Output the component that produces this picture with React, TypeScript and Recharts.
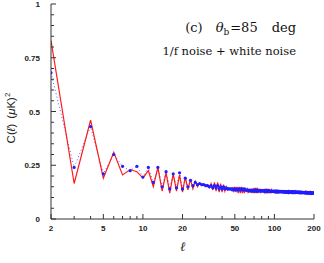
import React from 'react';
import { LineChart, Line, XAxis, YAxis } from 'recharts';

// multipoles start at l = 2, one value per integer l up to 200
const ELL_START = 2;

// red solid curve: 1/f + white noise
const redLow = [
    0.83, 0.165, 0.46, 0.19, 0.31, 0.205, 0.23, 0.22, 0.19, 0.225,
    0.15, 0.24, 0.13, 0.215, 0.12, 0.21, 0.13, 0.205, 0.125, 0.195,
    0.135, 0.185, 0.14, 0.175, 0.15, 0.165, 0.155, 0.16, 0.155, 0.16,
    0.145, 0.165, 0.135, 0.17, 0.13, 0.17, 0.125, 0.165, 0.125, 0.16,
    0.13, 0.15, 0.135, 0.145, 0.14, 0.14, 0.145, 0.13, 0.15, 0.125,
    0.15, 0.12, 0.15, 0.12, 0.15, 0.12, 0.145, 0.12, 0.145, 0.125,
    0.14, 0.125, 0.135, 0.13, 0.13,
];
const redHigh = [
    0.125, 0.14, 0.12, 0.145, 0.12, 0.145, 0.12, 0.145, 0.12, 0.14,
    0.125, 0.14, 0.125, 0.135, 0.13, 0.13, 0.135, 0.125, 0.14, 0.12,
    0.14, 0.12, 0.14, 0.12, 0.14, 0.12, 0.135, 0.125, 0.135, 0.125,
    0.13, 0.13, 0.13, 0.125, 0.135, 0.12, 0.135, 0.12, 0.135, 0.12,
    0.135, 0.12, 0.135, 0.12, 0.13, 0.125, 0.13, 0.125, 0.13, 0.125,
    0.128, 0.126, 0.13, 0.122, 0.132, 0.12, 0.132, 0.12, 0.132, 0.12,
    0.13, 0.122, 0.13, 0.124, 0.128, 0.125, 0.127, 0.124, 0.128, 0.122,
    0.13, 0.12, 0.13, 0.12, 0.13, 0.12, 0.129, 0.121, 0.128, 0.122,
    0.127, 0.123, 0.126, 0.124, 0.126, 0.123, 0.127, 0.121, 0.128, 0.12,
    0.128, 0.12, 0.128, 0.12, 0.127, 0.121, 0.126, 0.122, 0.125, 0.123,
    0.124, 0.123, 0.125, 0.121, 0.126, 0.12, 0.126, 0.119, 0.126, 0.119,
    0.125, 0.12, 0.124, 0.121, 0.123, 0.122, 0.123, 0.121, 0.124, 0.12,
    0.124, 0.119, 0.124, 0.119, 0.123, 0.12, 0.122, 0.121, 0.122, 0.12,
    0.122, 0.12, 0.121, 0.12,
];

// blue dotted curve with points
const blueLow = [
    0.68, 0.24, 0.43, 0.21, 0.30, 0.245, 0.225, 0.245, 0.195, 0.24,
    0.17, 0.24, 0.15, 0.22, 0.14, 0.21, 0.145, 0.215, 0.14, 0.19,
    0.15, 0.18, 0.155, 0.17, 0.16, 0.165, 0.16, 0.16, 0.155, 0.155,
    0.15, 0.155, 0.145, 0.155, 0.145, 0.155, 0.14, 0.15, 0.14, 0.15,
    0.14, 0.145, 0.14, 0.14, 0.14, 0.14, 0.135, 0.14, 0.135, 0.14,
    0.135, 0.14, 0.135, 0.14, 0.135, 0.14, 0.135, 0.14, 0.135, 0.135,
    0.135, 0.135, 0.13, 0.135, 0.13,
];
const blueHigh = [
    0.135, 0.13, 0.135, 0.13, 0.135, 0.13, 0.135, 0.13, 0.133, 0.13,
    0.133, 0.13, 0.132, 0.13, 0.132, 0.13, 0.132, 0.128, 0.133, 0.127,
    0.133, 0.127, 0.132, 0.128, 0.132, 0.128, 0.13, 0.128, 0.13, 0.128,
    0.13, 0.128, 0.13, 0.127, 0.13, 0.126, 0.13, 0.126, 0.13, 0.126,
    0.13, 0.126, 0.129, 0.127, 0.128, 0.127, 0.128, 0.126, 0.128, 0.126,
    0.127, 0.126, 0.128, 0.125, 0.128, 0.124, 0.128, 0.124, 0.128, 0.124,
    0.127, 0.125, 0.127, 0.125, 0.126, 0.125, 0.126, 0.125, 0.126, 0.124,
    0.127, 0.123, 0.127, 0.123, 0.126, 0.123, 0.126, 0.123, 0.125, 0.124,
    0.125, 0.124, 0.125, 0.124, 0.125, 0.123, 0.125, 0.123, 0.125, 0.122,
    0.125, 0.122, 0.125, 0.122, 0.124, 0.122, 0.124, 0.123, 0.124, 0.123,
    0.123, 0.123, 0.123, 0.122, 0.124, 0.121, 0.124, 0.121, 0.124, 0.121,
    0.123, 0.121, 0.123, 0.121, 0.122, 0.122, 0.122, 0.121, 0.122, 0.121,
    0.122, 0.12, 0.122, 0.12, 0.122, 0.121, 0.121, 0.121, 0.121, 0.121,
    0.121, 0.121, 0.121, 0.12,
];

const redVals = [...redLow, ...redHigh];
const blueVals = [...blueLow, ...blueHigh];

const majorX = [2, 5, 10, 20, 50, 100, 200];
const minorX = [3, 4, 6, 7, 8, 9, 30, 40, 60, 70, 80, 90];
const xTicks = [...majorX, ...minorX].sort((a, b) => a - b);

const majorY = [0, 0.25, 0.5, 0.75, 1];
const minorY = [0.05, 0.1, 0.15, 0.2, 0.3, 0.35, 0.4, 0.45, 0.55, 0.6, 0.65, 0.7, 0.8, 0.85, 0.9, 0.95];
const yTicks = [...majorY, ...minorY].sort((a, b) => a - b);

const data = redVals.map((r, i) => ({ ell: ELL_START + i, red: r, blue: blueVals[i] }));

const AXIS = '#333';
const labelFont = { fontFamily: 'Liberation Sans, Arial, sans-serif', fontSize: 8, fontWeight: 'bold' as const, fill: '#222' };
const serif = 'DejaVu Serif, serif';

const isMajor = (list: number[], v: number) => list.some((m) => Math.abs(m - v) < 1e-9);

// ticks are drawn pointing into the frame
const BottomTick = (props: any) => {
    const { x, y, payload } = props;
    const major = isMajor(majorX, payload.value);
    return (
        <g>
            <line x1={x} x2={x} y1={y} y2={y - (major ? 5 : 3)} stroke={AXIS} />
            {major && <text x={x} y={y + 12} textAnchor="middle" {...labelFont}>{payload.value}</text>}
        </g>
    );
};

const TopTick = (props: any) => {
    const { x, y, payload } = props;
    const major = isMajor(majorX, payload.value);
    return <line x1={x} x2={x} y1={y} y2={y + (major ? 5 : 3)} stroke={AXIS} />;
};

const LeftTick = (props: any) => {
    const { x, y, payload } = props;
    const major = isMajor(majorY, payload.value);
    return (
        <g>
            <line x1={x} x2={x + (major ? 5 : 3)} y1={y} y2={y} stroke={AXIS} />
            {major && <text x={x - 11} y={y + 3} textAnchor="end" {...labelFont}>{payload.value}</text>}
        </g>
    );
};

const RightTick = (props: any) => {
    const { x, y, payload } = props;
    const major = isMajor(majorY, payload.value);
    return <line x1={x} x2={x - (major ? 5 : 3)} y1={y} y2={y} stroke={AXIS} />;
};

export default function App() {
    return (
        <div style={{ position: 'absolute', left: 0, top: 0, width: 324, height: 263, background: '#fff' }}>
            <LineChart width={324} height={263} data={data} margin={{ top: 4, right: 10, bottom: 24, left: 0 }}>
                <XAxis
                    dataKey="ell"
                    type="number"
                    scale="log"
                    domain={[2, 200]}
                    allowDataOverflow
                    ticks={xTicks}
                    interval={0}
                    tick={<BottomTick />}
                    tickLine={false}
                    tickSize={0}
                    tickMargin={0}
                    height={20}
                    stroke={AXIS}
                />
                <XAxis
                    xAxisId="top"
                    orientation="top"
                    dataKey="ell"
                    type="number"
                    scale="log"
                    domain={[2, 200]}
                    allowDataOverflow
                    ticks={xTicks}
                    interval={0}
                    tick={<TopTick />}
                    tickLine={false}
                    tickSize={0}
                    tickMargin={0}
                    height={0}
                    stroke={AXIS}
                />
                <YAxis
                    type="number"
                    domain={[0, 1]}
                    allowDataOverflow
                    ticks={yTicks}
                    interval={0}
                    tick={<LeftTick />}
                    tickLine={false}
                    tickSize={0}
                    tickMargin={0}
                    width={51}
                    stroke={AXIS}
                />
                <YAxis
                    yAxisId="right"
                    orientation="right"
                    type="number"
                    domain={[0, 1]}
                    allowDataOverflow
                    ticks={yTicks}
                    interval={0}
                    tick={<RightTick />}
                    tickLine={false}
                    tickSize={0}
                    tickMargin={0}
                    width={0}
                    stroke={AXIS}
                />
                <Line
                    dataKey="blue"
                    stroke="#5a5aff"
                    strokeWidth={1}
                    strokeDasharray="1 2.5"
                    dot={false}
                    isAnimationActive={false}
                />
                <Line
                    dataKey="red"
                    stroke="#ff1a1a"
                    strokeWidth={1.2}
                    dot={false}
                    isAnimationActive={false}
                />
                <Line
                    dataKey="blue"
                    stroke="none"
                    dot={{ r: 1.6, fill: '#1f1fff', stroke: 'none' }}
                    isAnimationActive={false}
                />
                <text x={296} y={32} textAnchor="end" fontFamily={serif} fontSize={13} fill="#111">
                    (c)<tspan dx={13} fontStyle="italic">θ</tspan>
                    <tspan fontSize={9} dy={3}>b</tspan>
                    <tspan dy={-3} dx={1}>=85</tspan>
                    <tspan dx={14}>deg</tspan>
                </text>
                <text x={296} y={55} textAnchor="end" fontFamily={serif} fontSize={11.5} fill="#111">
                    1/f noise + white noise
                </text>
                <text
                    x={15}
                    y={118}
                    transform="rotate(-90 15 118)"
                    textAnchor="middle"
                    fontFamily="Liberation Sans, Arial, sans-serif"
                    fontSize={11.5}
                    fill="#222"
                >
                    C(<tspan fontStyle="italic">ℓ</tspan>)<tspan dx={5}>(</tspan><tspan fontStyle="italic">μ</tspan>K)<tspan fontSize={8} dy={-5}>2</tspan>
                </text>
                <text x={183} y={251} textAnchor="middle" fontFamily={serif} fontStyle="italic" fontWeight="bold" fontSize={13} fill="#222">
                    ℓ
                </text>
            </LineChart>
        </div>
    );
}
